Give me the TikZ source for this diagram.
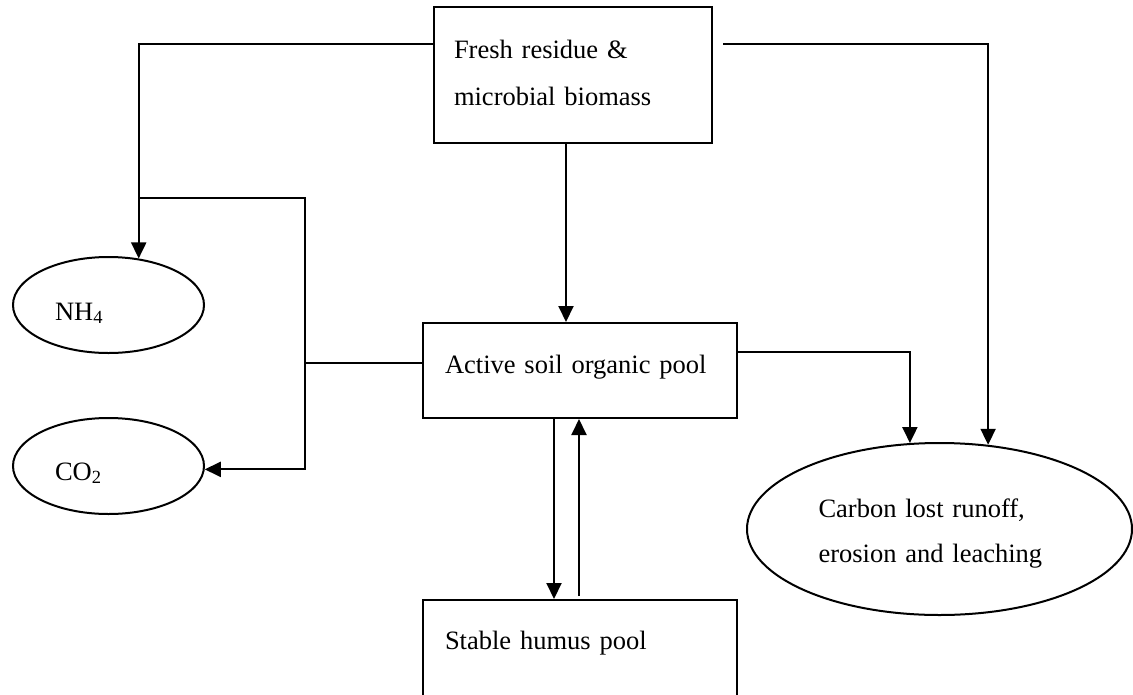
\documentclass[tikz,border=0pt]{standalone}
\usepackage{fontspec}
\setmainfont{Liberation Serif}
\usetikzlibrary{arrows.meta,shapes.geometric}
\tikzset{
  conn/.style={line width=2pt, -{Triangle[width=15pt,length=16pt]}},
  plain/.style={line width=2pt},
  boxnode/.style={draw, line width=2pt, rectangle, inner ysep=0pt, align=left,
    font={\fontsize{26.5pt}{47pt}\selectfont}},
  ellnode/.style={draw, line width=2pt, ellipse, inner sep=0pt, align=left,
    font={\fontsize{26.5pt}{45pt}\selectfont}}
}
\begin{document}
\begin{tikzpicture}[x=1pt,y=-1pt]
\fill[white] (0,0) rectangle (1133,694);
\useasboundingbox (0,0) rectangle (1133,694);

\node[boxnode, inner xsep=20pt, text width=238pt, text height=51pt, text depth=85pt]
  (fresh) at (573,75) {Fresh residue \&\\microbial biomass};
\node[boxnode, inner xsep=22pt, text width=270pt, text height=50pt, text depth=45pt]
  (active) at (580,370.5) {Active soil organic pool};
\node[boxnode, inner xsep=22pt, text width=270pt, text height=49pt, text depth=47pt]
  (stable) at (580,648) {Stable humus pool};

\node[ellnode, minimum width=191pt, minimum height=96pt, text width=107pt, text height=40pt, text depth=10pt]
  (nh4) at (108.5,305) {NH\textsubscript{4}};
\node[ellnode, minimum width=191pt, minimum height=96pt, text width=107pt, text height=39pt, text depth=11pt]
  (co2) at (108.5,466) {CO\textsubscript{2}};
\node[ellnode, minimum width=385pt, minimum height=172pt, text width=242pt, text height=40pt, text depth=64pt]
  (lost) at (939.5,529) {Carbon lost runoff,\\erosion and leaching};

% connectors
\draw[conn] ([yshift=31pt]fresh.west) -| (nh4.57);
\draw[conn] ([xshift=10pt,yshift=31pt]fresh.east) -| (lost.60);
\draw[conn] ([xshift=-7pt]fresh.south) -- ([xshift=-7pt]fresh.south |- active.north);

\coordinate (jtop) at (305,198);
\draw[conn] (nh4.57 |- jtop) -- (jtop) |- (co2.-2);
\coordinate (aw) at ([yshift=7.5pt]active.west);
\draw[plain] (aw) -- (aw -| jtop);

\draw[conn] ([yshift=18.5pt]active.east) -| (lost.109);

\draw[conn] ([xshift=-26pt]active.south) -- ([xshift=-26pt]stable.north);
\draw[conn, shorten <=3pt] ([xshift=-1pt]stable.north) -- ([xshift=-1pt]active.south);
\end{tikzpicture}
\end{document}
